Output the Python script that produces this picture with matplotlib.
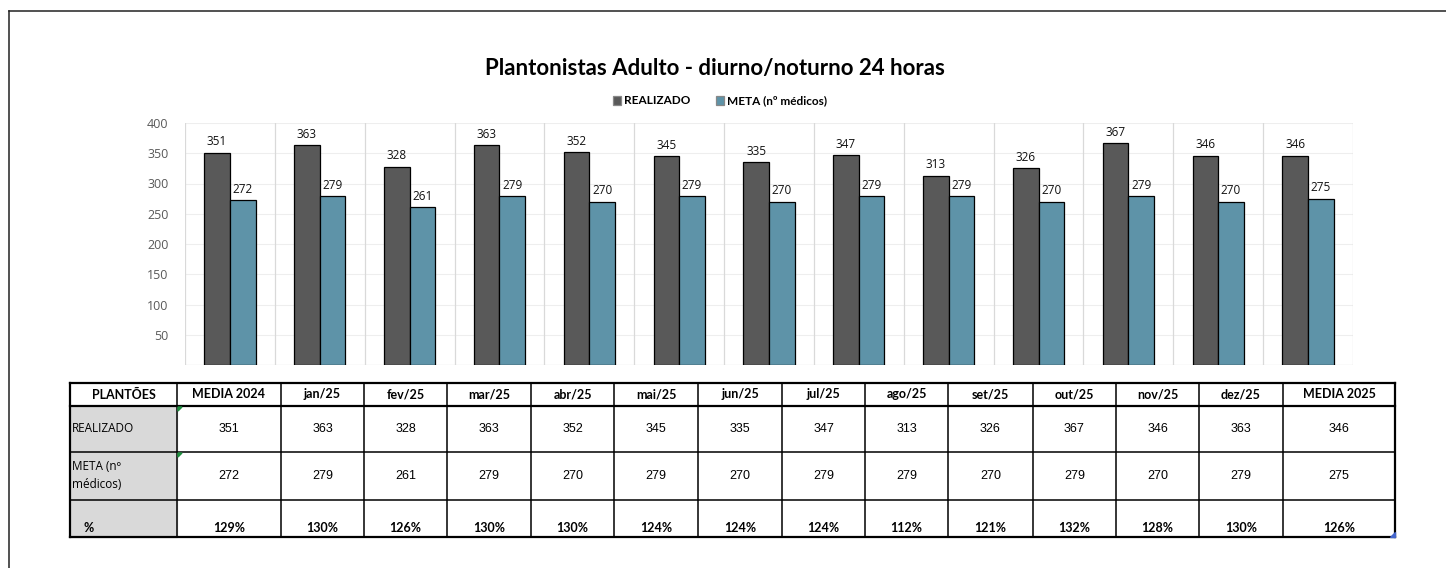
import matplotlib
matplotlib.use("Agg")
import matplotlib.pyplot as plt
import numpy as np

# --------------------------------------------------------------------------- #
# Data
# --------------------------------------------------------------------------- #
bar_realizado = [351, 363, 328, 363, 352, 345, 335, 347, 313, 326, 367, 346, 346]
bar_meta = [272, 279, 261, 279, 270, 279, 270, 279, 279, 270, 279, 270, 275]

table_cols = ["MEDIA 2024", "jan/25", "fev/25", "mar/25", "abr/25", "mai/25", "jun/25",
              "jul/25", "ago/25", "set/25", "out/25", "nov/25", "dez/25", "MEDIA 2025"]
table_realizado = [351, 363, 328, 363, 352, 345, 335, 347, 313, 326, 367, 346, 363, 346]
table_meta = [272, 279, 261, 279, 270, 279, 270, 279, 279, 270, 279, 270, 279, 275]
table_pct = ["129%", "130%", "126%", "130%", "130%", "124%", "124%", "124%", "112%",
             "121%", "132%", "128%", "130%", "126%"]

yticks = [50, 100, 150, 200, 250, 300, 350, 400]

C_REAL = "#595959"
C_META = "#5E93A8"
W, H = 1446, 568

HEAD_FONT = ["Lato", "DejaVu Sans"]
NUM_FONT = ["Liberation Sans Narrow", "Liberation Sans", "DejaVu Sans"]
LBL_FONT = ["Open Sans", "DejaVu Sans"]

fig = plt.figure(figsize=(W / 100, H / 100), dpi=100)
fig.patch.set_facecolor("white")

# background axes in pixel coordinates (frame + table)
bg = fig.add_axes([0, 0, 1, 1])
bg.set_xlim(0, W)
bg.set_ylim(H, 0)
bg.axis("off")
bg.plot([9, W], [11, 11], color="#222222", lw=1.1)
bg.plot([9, 9], [11, H], color="#222222", lw=1.1)

# --------------------------------------------------------------------------- #
# Bar chart
# --------------------------------------------------------------------------- #
px_l, px_r, px_t, px_b = 185, 1353, 123, 365
ax = fig.add_axes([px_l / W, 1 - px_b / H, (px_r - px_l) / W, (px_b - px_t) / H])
n = len(bar_realizado)
x = np.arange(n)
bw = 0.285
ax.bar(x - bw / 2, bar_realizado, bw, color=C_REAL, edgecolor="black", lw=0.9, zorder=3,
       label="REALIZADO")
ax.bar(x + bw / 2, bar_meta, bw, color=C_META, edgecolor="black", lw=0.9, zorder=3,
       label="META (nº médicos)")
for i in range(n):
    ax.text(x[i] - bw / 2, bar_realizado[i] + 7, str(bar_realizado[i]), ha="center",
            va="bottom", fontsize=8.5, family=LBL_FONT, color="#111111")
    ax.text(x[i] + bw / 2, bar_meta[i] + 7, str(bar_meta[i]), ha="center",
            va="bottom", fontsize=8.5, family=LBL_FONT, color="#111111")

ax.set_xlim(-0.5, n - 0.5)
ax.set_ylim(0, 400)
ax.set_yticks(yticks)
ax.set_yticklabels([str(t) for t in yticks], family=LBL_FONT, fontsize=9, color="#595959")
ax.set_xticks([])
ax.tick_params(axis="y", length=0, pad=12)
for t in yticks:
    ax.axhline(t, color="#EEEEEE", lw=0.8, zorder=0)
for b in np.arange(-0.5, n, 1.0):
    ax.axvline(b, color="#D9D9D9", lw=0.9, zorder=1)
for s in ax.spines.values():
    s.set_visible(False)
ax.axhline(0, color="#D9D9D9", lw=0.9, zorder=1)

leg = fig.legend(loc="center", bbox_to_anchor=(720 / W, 1 - 101 / H), ncol=2,
                 frameon=False, handlelength=0.7, handleheight=0.7, handletextpad=0.2,
                 columnspacing=2.2, prop={"family": HEAD_FONT, "weight": "bold", "size": 8.5})
for h in leg.legend_handles:
    h.set_edgecolor("#888888")

fig.text(715 / W, 1 - 68 / H, "Plantonistas Adulto - diurno/noturno 24 horas",
         ha="center", va="center", fontsize=16, weight="bold", family=HEAD_FONT)

# --------------------------------------------------------------------------- #
# Table
# --------------------------------------------------------------------------- #
col_edges = [70, 177, 281, 364, 447, 531, 614, 698, 782, 865, 948, 1033, 1116, 1199, 1283, 1395]
row_edges = [383, 406, 452, 500, 537]

# grey label column
bg.add_patch(plt.Rectangle((col_edges[0], row_edges[1]), col_edges[1] - col_edges[0],
                           row_edges[-1] - row_edges[1], color="#D9D9D9", zorder=1))

for ye in row_edges:
    lw = 1.6 if ye in (row_edges[0], row_edges[1], row_edges[-1]) else 1.1
    bg.plot([col_edges[0], col_edges[-1]], [ye, ye], color="black", lw=lw, zorder=3)
for xe in col_edges:
    lw = 1.6 if xe in (col_edges[0], col_edges[-1]) else 1.1
    bg.plot([xe, xe], [row_edges[0], row_edges[-1]], color="black", lw=lw, zorder=3)

def cx(j):
    return (col_edges[j] + col_edges[j + 1]) / 2

def cy(i):
    return (row_edges[i] + row_edges[i + 1]) / 2

bg.text(cx(0), cy(0), "PLANTÕES", ha="center", va="center", fontsize=9, weight="bold",
        family=HEAD_FONT, zorder=4)
bg.text(col_edges[0] + 2, cy(1), "REALIZADO", ha="left", va="center", fontsize=8.5,
        family=LBL_FONT, zorder=4)
bg.text(col_edges[0] + 2, cy(2), "META (nº\nmédicos)", ha="left", va="center", fontsize=8.5,
        family=LBL_FONT, linespacing=1.5, zorder=4)
bg.text(col_edges[0] + 13, row_edges[4] - 3, "%", ha="left", va="bottom", fontsize=9,
        weight="bold", family=HEAD_FONT, zorder=4)

for j, name in enumerate(table_cols):
    bg.text(cx(j + 1), cy(0), name, ha="center", va="center", fontsize=9, weight="bold",
            family=HEAD_FONT, zorder=4)
    bg.text(cx(j + 1), cy(1), str(table_realizado[j]), ha="center", va="center",
            fontsize=9, family=NUM_FONT, zorder=4)
    bg.text(cx(j + 1), cy(2), str(table_meta[j]), ha="center", va="center",
            fontsize=9, family=NUM_FONT, zorder=4)
    bg.text(cx(j + 1), row_edges[4] - 3, table_pct[j], ha="center", va="bottom",
            fontsize=9, weight="bold", family=HEAD_FONT, zorder=4)

# excel error markers and selection handle
for ye in (row_edges[1], row_edges[2]):
    bg.add_patch(plt.Polygon([[col_edges[1] + 1, ye + 1], [col_edges[1] + 5, ye + 1],
                              [col_edges[1] + 1, ye + 5]], color="#1E8E3E", zorder=5))
bg.add_patch(plt.Polygon([[col_edges[-1], row_edges[-1] - 5], [col_edges[-1], row_edges[-1]],
                          [col_edges[-1] - 5, row_edges[-1]]], color="#4466CC", zorder=5))

fig.savefig("out.png", dpi=100, facecolor="white")
